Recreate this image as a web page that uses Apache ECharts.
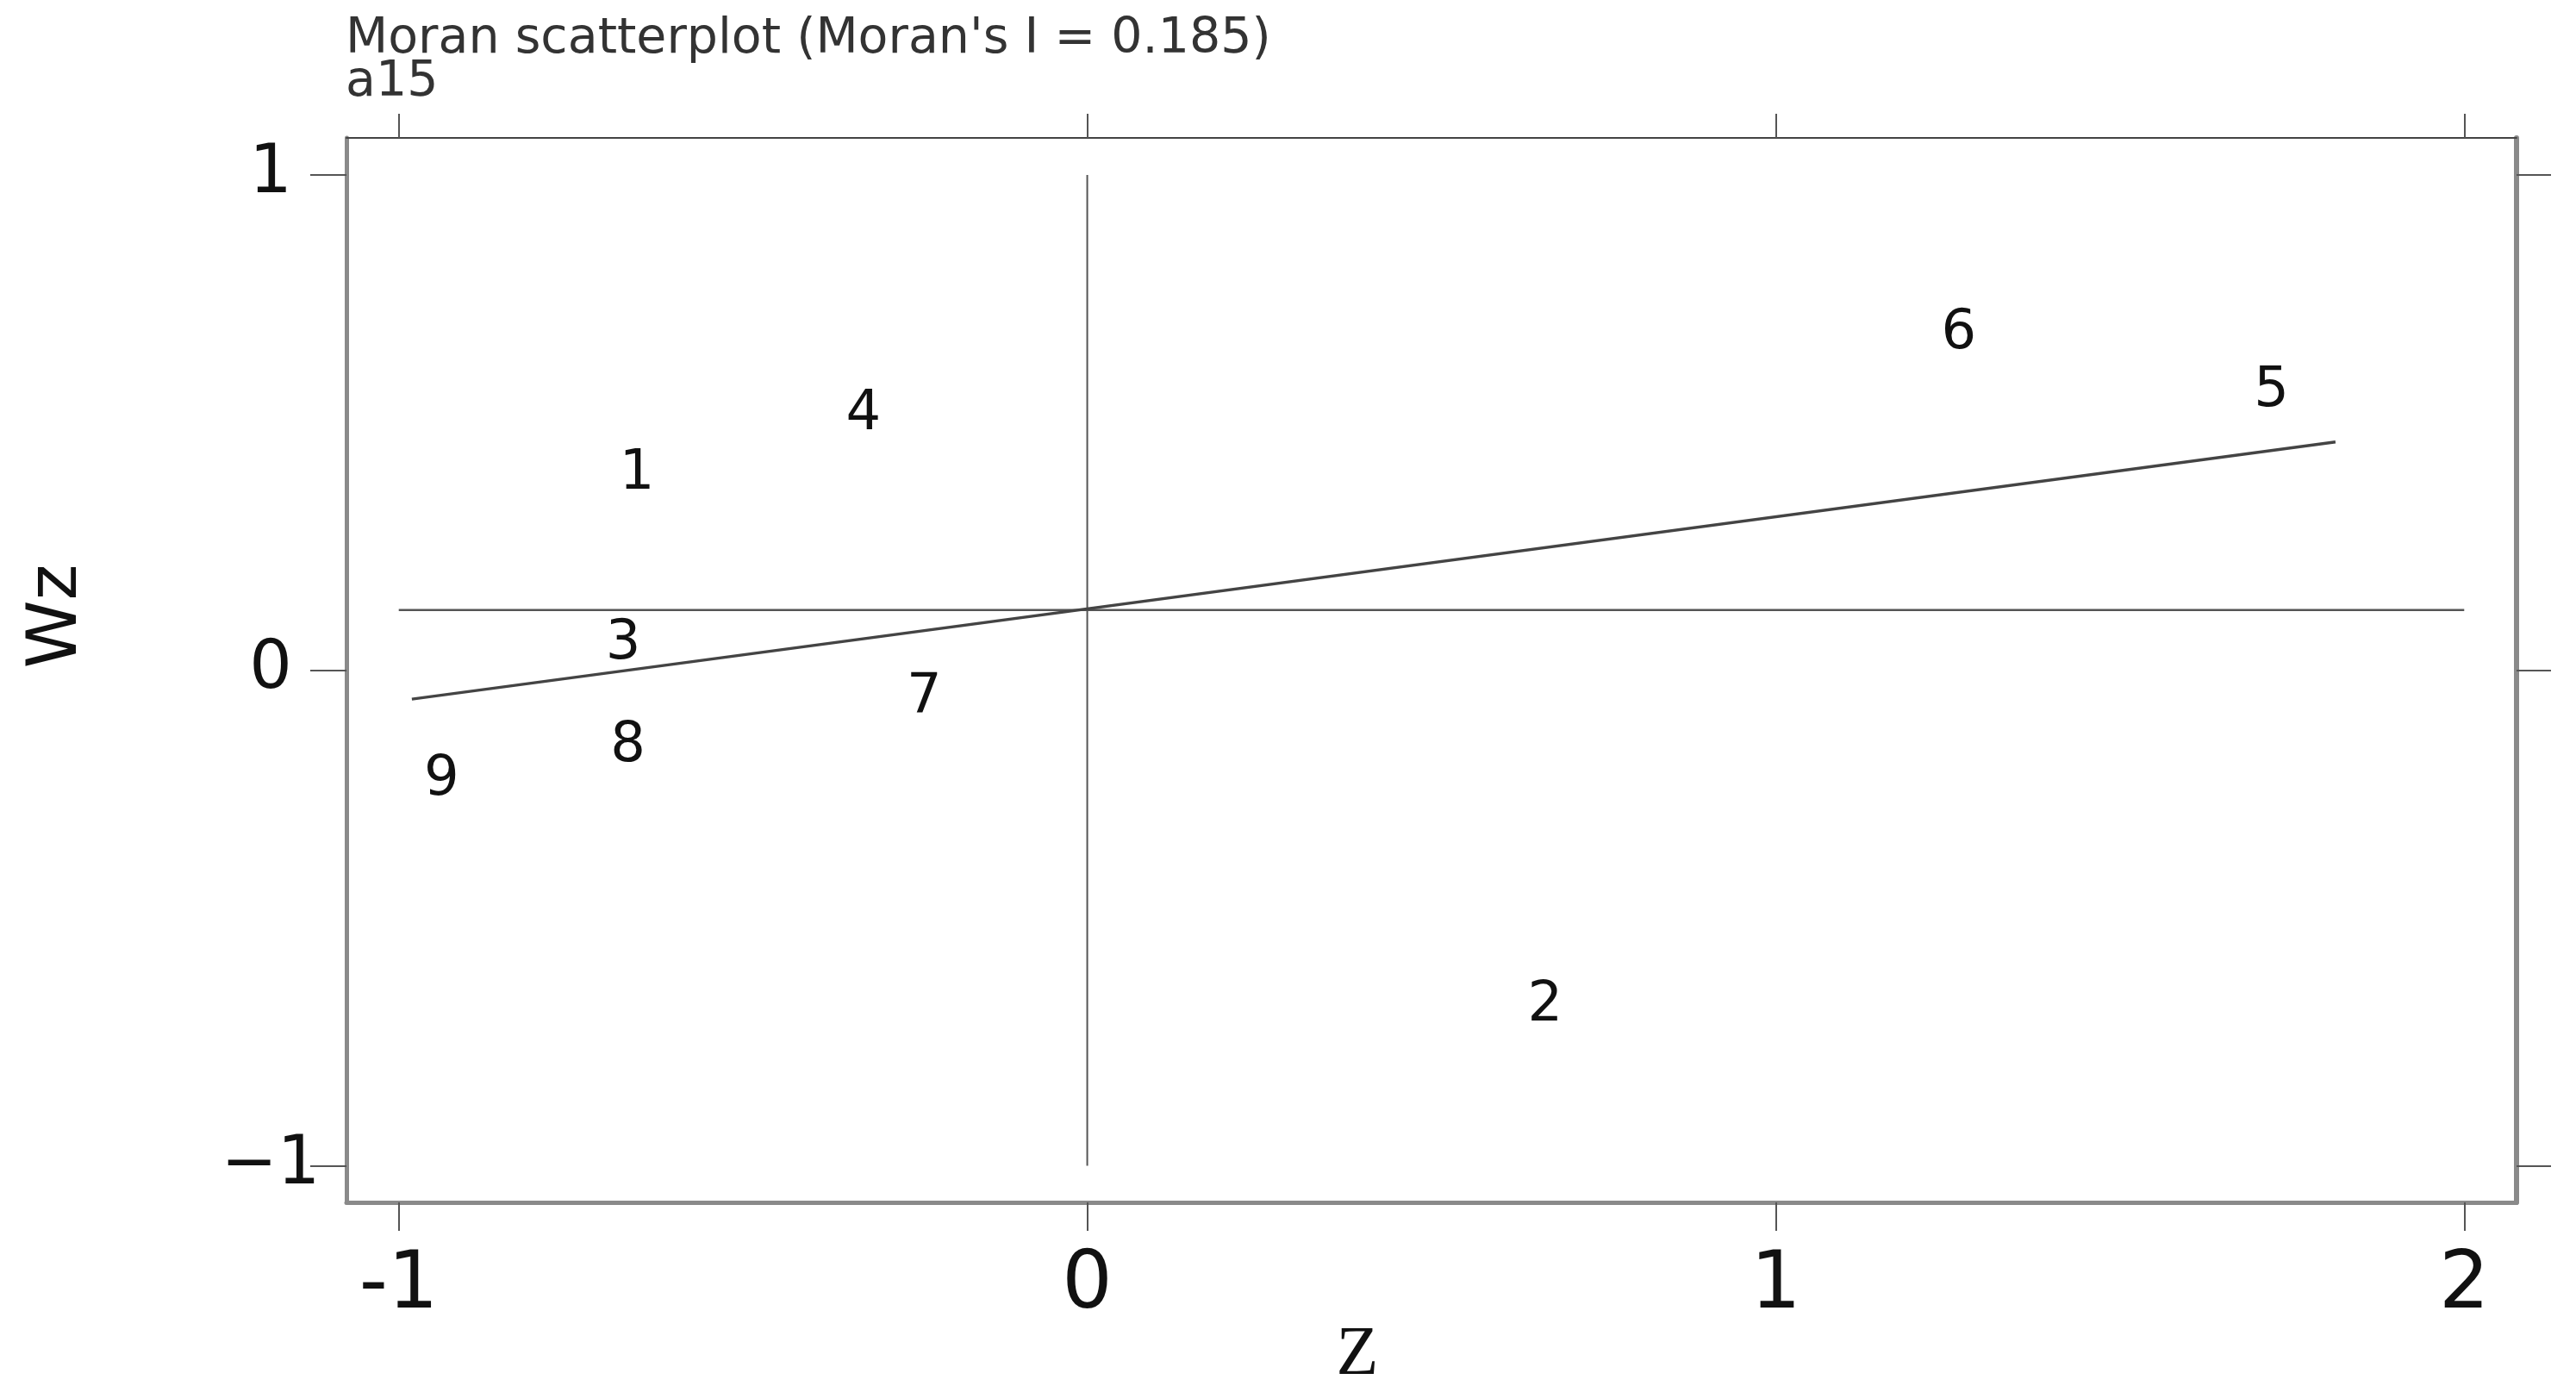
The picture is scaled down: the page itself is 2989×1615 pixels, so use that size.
<!DOCTYPE html>
<html>
<head>
<meta charset="utf-8">
<script src="https://cdn.jsdelivr.net/npm/echarts@6/dist/echarts.min.js"></script>
<style>
html,body{margin:0;padding:0;background:#fff;}
#chart{width:2989px;height:1615px;}
</style>
</head>
<body>
<div id="chart"></div>
<script>
// ---- data ----
const pointLabels = ['1', '2', '3', '4', '5', '6', '7', '8', '9'];
const zValues  = [-0.654, 0.665, -0.674, -0.325, 1.720, 1.266, -0.237, -0.667, -0.938];
const wzValues = [0.406, -0.667, 0.063, 0.526, 0.573, 0.690, -0.046, -0.143, -0.212];
const meanWz = 0.122;
const fitLineX = [-0.981, 1.813];
const fitLineY = [-0.058, 0.461];
const xTicks = [-1, 0, 1, 2];
const yTicks = [-1, 0, 1];
const titleText = "Moran scatterplot (Moran's I = 0.185)";
const subTitleText = 'a15';
const xName = 'Z';
const yName = 'Wz';

const chart = echarts.init(document.getElementById('chart'), null, {renderer: 'canvas'});

const frameGray = '#8a8a8a';
const lineDark = '#555';
const numFont = 'DejaVu Sans';

const scatterData = zValues.map((z, i) => [z, wzValues[i], pointLabels[i]]);

const option = {
  backgroundColor: '#ffffff',
  animation: false,
  grid: {left: 402, right: 69, top: 160, bottom: 220, containLabel: false},
  xAxis: [
    {
      type: 'value', position: 'bottom', min: -1.076, max: 2.076,
      splitLine: {show: false},
      axisLine: {show: true, onZero: false, lineStyle: {color: frameGray, width: 5}},
      axisTick: {show: true, inside: false, length: 33, customValues: xTicks, lineStyle: {color: lineDark, width: 2}},
      axisLabel: {
        show: true, customValues: xTicks, margin: 52,
        fontFamily: numFont, fontSize: 92, color: '#111', verticalAlign: 'top',
        formatter: v => (v < 0 ? '-' + Math.abs(v) : String(v))
      }
    },
    {
      type: 'value', position: 'top', min: -1.076, max: 2.076,
      splitLine: {show: false},
      axisLine: {show: true, onZero: false, lineStyle: {color: '#444', width: 2}},
      axisTick: {show: true, inside: false, length: 28, customValues: xTicks, lineStyle: {color: lineDark, width: 2}},
      axisLabel: {show: false}
    }
  ],
  yAxis: [
    {
      type: 'value', position: 'left', min: -1.074, max: 1.075,
      splitLine: {show: false},
      axisLine: {show: true, onZero: false, lineStyle: {color: frameGray, width: 5}},
      axisTick: {show: true, inside: false, length: 42, customValues: yTicks, lineStyle: {color: lineDark, width: 2}},
      axisLabel: {
        show: true, customValues: yTicks, margin: 88, align: 'center',
        fontFamily: numFont, fontSize: 78, color: '#111',
        formatter: v => (v < 0 ? '\u2212' + Math.abs(v) : String(v))
      }
    },
    {
      type: 'value', position: 'right', min: -1.074, max: 1.075,
      splitLine: {show: false},
      axisLine: {show: true, onZero: false, lineStyle: {color: frameGray, width: 6}},
      axisTick: {show: true, inside: false, length: 40, customValues: yTicks, lineStyle: {color: lineDark, width: 2}},
      axisLabel: {show: false}
    }
  ],
  graphic: [
    {type: 'text', left: 401, top: 18, style: {text: titleText, font: '57px "DejaVu Sans"', fill: '#333'}},
    {type: 'text', left: 401, top: 68, style: {text: subTitleText, font: '57px "DejaVu Sans"', fill: '#333'}},
    {type: 'text', x: 67, y: 715, rotation: Math.PI / 2,
     style: {text: yName, font: '80px "DejaVu Sans"', fill: '#111', align: 'center', verticalAlign: 'middle'}},
    {type: 'text', x: 1575, y: 1573,
     style: {text: xName, font: '80px "Liberation Serif"', fill: '#111', align: 'center', verticalAlign: 'middle'}}
  ],
  series: [
    {
      type: 'line', name: 'meanZ', xAxisIndex: 0, yAxisIndex: 0,
      data: [[0, yTicks[0]], [0, yTicks[yTicks.length - 1]]],
      symbol: 'none', silent: true, z: 1,
      lineStyle: {color: lineDark, width: 2}
    },
    {
      type: 'line', name: 'meanWz', xAxisIndex: 0, yAxisIndex: 0,
      data: [[xTicks[0], meanWz], [xTicks[xTicks.length - 1], meanWz]],
      symbol: 'none', silent: true, z: 1,
      lineStyle: {color: lineDark, width: 2.5}
    },
    {
      type: 'line', name: 'fit', xAxisIndex: 0, yAxisIndex: 0,
      data: fitLineX.map((x, i) => [x, fitLineY[i]]),
      symbol: 'none', silent: true, z: 2,
      lineStyle: {color: '#444', width: 3.5}
    },
    {
      type: 'scatter', name: 'points', xAxisIndex: 0, yAxisIndex: 0,
      data: scatterData, symbol: 'circle', symbolSize: 1, z: 3,
      itemStyle: {color: 'rgba(0,0,0,0)'},
      label: {
        show: true, position: 'inside', offset: [0, 6], formatter: p => p.data[2],
        fontFamily: numFont, fontSize: 64, color: '#111', opacity: 1
      }
    }
  ]
};
chart.setOption(option);
</script>
</body>
</html>
